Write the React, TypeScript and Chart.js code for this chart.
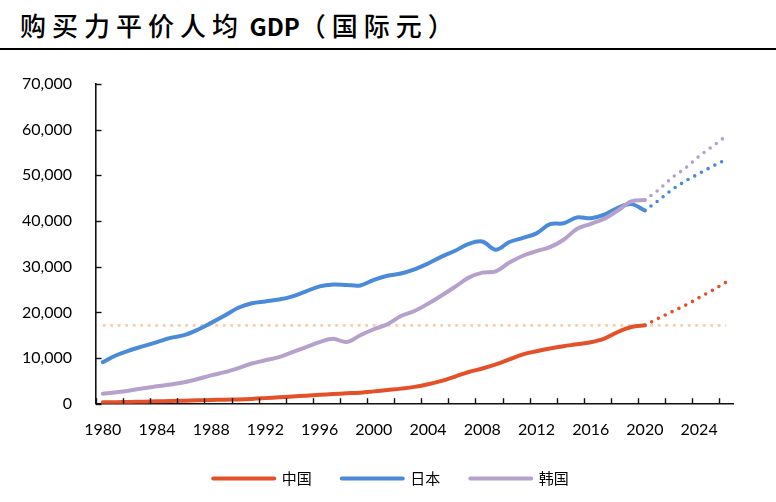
import React, { useEffect, useRef } from "react";
import { Chart, registerables } from "chart.js";

Chart.register(...registerables);

const TITLE_A = "购买力平价人均";
const TITLE_B = " GDP";
const TITLE_C = "（国际元）";

const YEARS = [
  "1980", "1981", "1982", "1983", "1984", "1985", "1986", "1987", "1988", "1989",
  "1990", "1991", "1992", "1993", "1994", "1995", "1996", "1997", "1998", "1999",
  "2000", "2001", "2002", "2003", "2004", "2005", "2006", "2007", "2008", "2009",
  "2010", "2011", "2012", "2013", "2014", "2015", "2016", "2017", "2018", "2019",
  "2020", "2021", "2022", "2023", "2024", "2025", "2026",
];

// 1980–2020 actual values
const CHINA = [
  300, 340, 390, 450, 520, 600, 660, 740, 820, 880,
  940, 1050, 1220, 1400, 1580, 1760, 1950, 2120, 2270, 2420,
  2700, 3000, 3300, 3680, 4250, 5000, 5950, 6950, 7700, 8600,
  9700, 10800, 11500, 12100, 12600, 13000, 13450, 14250, 15700, 16800,
  17160,
];
const JAPAN = [
  9100, 10600, 11700, 12600, 13500, 14400, 15000, 16200, 17700, 19300,
  21000, 22000, 22400, 22800, 23500, 24600, 25700, 26100, 26000, 25900,
  27100, 28000, 28500, 29400, 30700, 32200, 33500, 35000, 35500, 33700,
  35400, 36300, 37300, 39300, 39500, 40800, 40600, 41400, 42900, 43700,
  42300,
];
const KOREA = [
  2200, 2500, 2900, 3400, 3800, 4200, 4700, 5400, 6200, 6900,
  7800, 8800, 9500, 10200, 11300, 12400, 13500, 14200, 13500, 15000,
  16300, 17400, 19200, 20300, 21900, 23700, 25600, 27600, 28700, 29000,
  30900, 32400, 33400, 34300, 35900, 38300, 39400, 40500, 42300, 44300,
  44600,
];

// 2021–2026 projections
const CHINA_PROJ = [18700, 20150, 21560, 23230, 24860, 26620];
const JAPAN_PROJ = [44500, 46900, 48800, 50400, 52000, 53500];
const KOREA_PROJ = [46800, 49500, 51600, 54200, 56400, 58600];

// reference level (China 2020)
const REF_LEVEL = 17160;

const NAMES = ["中国", "日本", "韩国"];
const COLORS = ["#E3502A", "#4A8AD9", "#B5A1CC"];
const REF_COLOR = "#F8CDAE";

const Y_MIN = 0;
const Y_MAX = 70000;
const Y_STEP = 10000;

function actualSeries(vals: number[]) {
  return YEARS.map((_, i) => (i < vals.length ? vals[i] : null));
}
function projSeries(vals: number[], proj: number[]) {
  const last = vals.length - 1;
  return YEARS.map((_, i) => {
    if (i < last) return null;
    if (i === last) return vals[last];
    const k = i - last - 1;
    return k < proj.length ? proj[k] : null;
  });
}

const innerTicks = {
  id: "innerTicks",
  afterDraw(chart: any) {
    const { ctx, chartArea, scales } = chart;
    const x = scales.x;
    const y = scales.y;
    const step = x.getPixelForValue(1) - x.getPixelForValue(0);
    ctx.save();
    ctx.strokeStyle = "#111";
    ctx.lineWidth = 1.4;
    for (let i = 0; i < YEARS.length; i += 2) {
      const px = Math.round(x.getPixelForValue(i) - step / 2) + 0.5;
      ctx.beginPath();
      ctx.moveTo(px, chartArea.bottom);
      ctx.lineTo(px, chartArea.bottom - 5.5);
      ctx.stroke();
    }
    y.ticks.forEach((t: any) => {
      const py = Math.round(y.getPixelForValue(t.value)) + 0.5;
      ctx.beginPath();
      ctx.moveTo(chartArea.left, py);
      ctx.lineTo(chartArea.left + 5.5, py);
      ctx.stroke();
    });
    ctx.restore();
  },
};

export default function App() {
  const ref = useRef<HTMLCanvasElement | null>(null);

  useEffect(() => {
    if (!ref.current) return;
    const actual = [CHINA, JAPAN, KOREA];
    const projs = [CHINA_PROJ, JAPAN_PROJ, KOREA_PROJ];
    const drawOrder = [2, 1, 0];
    const datasets: any[] = [];
    actual.forEach((vals, i) => {
      datasets.push({
        label: NAMES[i],
        data: actualSeries(vals),
        borderColor: COLORS[i],
        backgroundColor: COLORS[i],
        borderWidth: 4,
        borderCapStyle: "round",
        borderJoinStyle: "round",
        pointRadius: 0,
        pointHoverRadius: 0,
        tension: 0.35,
        spanGaps: false,
        order: drawOrder[i],
      });
    });
    actual.forEach((vals, i) => {
      datasets.push({
        label: NAMES[i] + "预测",
        data: projSeries(vals, projs[i]),
        borderColor: COLORS[i],
        backgroundColor: COLORS[i],
        borderWidth: 3.6,
        borderCapStyle: "round",
        borderDash: [0, 7.6],
        pointRadius: 0,
        pointHoverRadius: 0,
        tension: 0,
        order: drawOrder[i],
      });
    });
    datasets.push({
      label: "ref",
      data: YEARS.map(() => REF_LEVEL),
      borderColor: REF_COLOR,
      borderWidth: 2.8,
      borderDash: [2.8, 4.7],
      borderCapStyle: "butt",
      pointRadius: 0,
      pointHoverRadius: 0,
      order: 10,
    });

    const tickFont = { family: "Lato, 'Noto Sans', sans-serif", size: 16 };

    const chart = new Chart(ref.current, {
      type: "line",
      data: { labels: YEARS, datasets },
      options: {
        animation: false,
        responsive: false,
        maintainAspectRatio: false,
        layout: { padding: { top: 34, right: 0, left: 6, bottom: 0 } },
        plugins: {
          title: { display: false },
          tooltip: { enabled: false },
          legend: {
            display: true,
            position: "bottom",
            align: "center",
            labels: {
              usePointStyle: true,
              pointStyleWidth: 61,
              boxHeight: 15,
              padding: 30,
              color: "#000",
              font: { family: "'Noto Sans CJK SC', sans-serif", size: 15 },
              generateLabels: () =>
                NAMES.map((n, i) => ({
                  text: n,
                  fillStyle: COLORS[i],
                  strokeStyle: COLORS[i],
                  lineWidth: 4,
                  lineCap: "round",
                  pointStyle: "line",
                  hidden: false,
                  datasetIndex: i,
                  fontColor: "#000",
                })),
            },
          },
        },
        scales: {
          x: {
            type: "category",
            offset: true,
            grid: { display: true, drawOnChartArea: false, drawTicks: false, offset: true, color: "transparent" },
            border: { display: true, color: "#111", width: 1.6 },
            ticks: {
              autoSkip: false,
              maxRotation: 0,
              minRotation: 0,
              padding: 16.5,
              color: "#000",
              font: tickFont,
              callback: (_v: any, i: number) => (i % 4 === 0 ? YEARS[i] : ""),
            },
            afterFit: (s: any) => {
              s.height = 37.3;
            },
          },
          y: {
            min: Y_MIN,
            max: Y_MAX,
            grid: { display: true, drawOnChartArea: false, drawTicks: false, color: "transparent" },
            border: { display: true, color: "#111", width: 1.6 },
            ticks: {
              stepSize: Y_STEP,
              padding: 24,
              color: "#000",
              font: tickFont,
              callback: (v: any) => Number(v).toLocaleString("en-US"),
            },
            afterFit: (s: any) => {
              s.width = 90;
            },
          },
          yRightSpace: {
            type: "linear",
            position: "right",
            display: true,
            grid: { display: false, drawTicks: false },
            border: { display: false },
            ticks: { display: false },
            afterFit: (s: any) => {
              s.width = 43;
            },
          },
        },
      },
      plugins: [innerTicks],
    });

    let alive = true;
    if ((document as any).fonts && (document as any).fonts.ready) {
      (document as any).fonts.ready.then(() => {
        if (alive) chart.update();
      });
    }
    return () => {
      alive = false;
      chart.destroy();
    };
  }, []);

  const cjk = "'Noto Sans CJK SC', sans-serif";

  return (
    <div
      style={{
        position: "fixed",
        left: 0,
        top: 0,
        width: 776,
        height: 502,
        background: "#fff",
        overflow: "hidden",
      }}
    >
      <div
        style={{
          position: "absolute",
          left: 20,
          top: 7,
          fontFamily: cjk,
          fontWeight: 500,
          fontSize: 26,
          lineHeight: "36px",
          color: "#000",
          whiteSpace: "nowrap",
        }}
      >
        <span style={{ letterSpacing: 6 }}>{TITLE_A}</span>
        <span style={{ fontSize: 24, fontWeight: 700, letterSpacing: 0 }}>{TITLE_B}</span>
        <span style={{ letterSpacing: 6 }}>{TITLE_C}</span>
      </div>
      <div
        style={{
          position: "absolute",
          left: 0,
          top: 48,
          width: 776,
          height: 2,
          background: "#000",
        }}
      />
      <canvas
        ref={ref}
        width={776}
        height={446}
        style={{ position: "absolute", left: 0, top: 50, width: 776, height: 446 }}
      />
    </div>
  );
}
